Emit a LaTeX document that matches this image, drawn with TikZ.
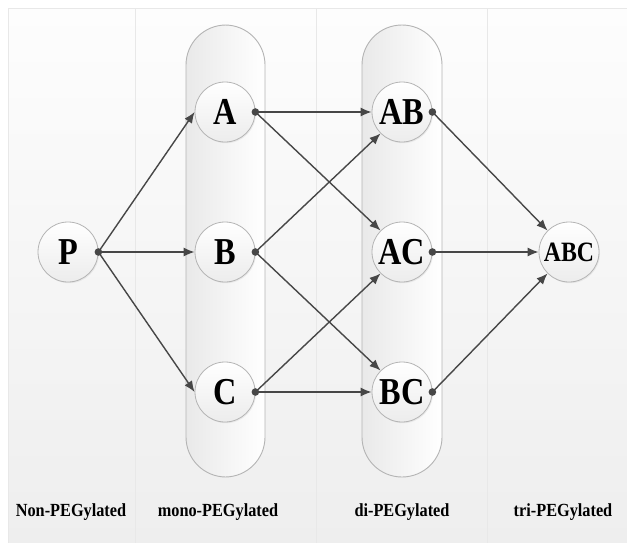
\documentclass[tikz,border=0pt]{standalone}
\usepackage{fontspec}
\usepackage{graphicx}
\setmainfont{Liberation Serif}
\usetikzlibrary{arrows.meta,shadows}
\definecolor{linegray}{HTML}{474747}
\definecolor{bordergray}{HTML}{B4B4B4}
\definecolor{sepgray}{HTML}{E8E8E8}
\definecolor{bgtop}{HTML}{FDFDFD}
\definecolor{bgbot}{HTML}{EEEEEE}
\definecolor{pillgray}{HTML}{E9E9E9}
\definecolor{circbot}{HTML}{ECECEC}
\tikzset{
  colband/.style={draw=sepgray, line width=0.6pt, top color=bgtop, bottom color=bgbot},
  pill/.style={draw=bordergray, line width=0.9pt, rounded corners=40pt, left color=pillgray, right color=white},
  state/.style={circle, minimum size=60pt, inner sep=0pt, draw=bordergray, line width=0.8pt,
    top color=white, bottom color=circbot,
    drop shadow={opacity=0.12, shadow xshift=1pt, shadow yshift=-1.2pt},
    font=\fontsize{38}{38}\selectfont\bfseries},
  collabel/.style={font=\fontsize{18.5}{18.5}\selectfont\bfseries, inner sep=0pt},
  conn/.style={draw=linegray, line width=1.4pt, -{Latex[length=11pt,width=9pt]}},
  dotm/.style={fill=linegray}
}
\newcommand{\sq}[2][0.85]{\scalebox{#1}[1]{#2}}
\begin{document}
\begin{tikzpicture}[x=1pt,y=-1pt]
\useasboundingbox (0,0) rectangle (627,542);
\fill[white] (0,0) rectangle (627,542);
% column bands
\path[colband] (8,8) rectangle (135,545);
\path[colband] (135,8) rectangle (316,545);
\path[colband] (316,8) rectangle (487,545);
\path[colband] (487,8) rectangle (630,545);
% pills
\path[pill] (186,25) rectangle (265,477);
\path[pill] (362,25) rectangle (442,477);
% nodes
\node[state] (P) at (68,252) {\sq{P}};
\node[state] (A) at (225,112) {\sq{A}};
\node[state] (B) at (225,252) {\sq{B}};
\node[state] (C) at (225,392) {\sq{C}};
\node[state] (AB) at (402,112) {\sq{AB}};
\node[state] (AC) at (402,252) {\sq{AC}};
\node[state] (BC) at (402,392) {\sq{BC}};
\node[state, font=\fontsize{28}{28}\selectfont\bfseries] (ABC) at (569,252) {\sq{ABC}};
% connectors
\draw[conn] (P.east) -- (A.west);
\draw[conn] (P.east) -- (B.west);
\draw[conn] (P.east) -- (C.west);
\draw[conn] (A.east) -- (AB.west);
\draw[conn] (A.east) -- (AC.north west);
\draw[conn] (B.east) -- (AB.south west);
\draw[conn] (B.east) -- (BC.north west);
\draw[conn] (C.east) -- (AC.south west);
\draw[conn] (C.east) -- (BC.west);
\draw[conn] (AB.east) -- (ABC.north west);
\draw[conn] (AC.east) -- (ABC.west);
\draw[conn] (BC.east) -- (ABC.south west);
\foreach \n in {P,A,B,C,AB,AC,BC} \fill[dotm] (\n.east) circle (3.8pt);
% column labels
\node[collabel] (l1) at (71,512) {\sq[0.88]{Non-PEGylated}};
\node[collabel] (l2) at (218,512) {\sq[0.88]{mono-PEGylated}};
\node[collabel] (l3) at (402,512) {\sq[0.88]{di-PEGylated}};
\node[collabel] (l4) at (563,512) {\sq[0.88]{tri-PEGylated}};
\end{tikzpicture}
\end{document}
